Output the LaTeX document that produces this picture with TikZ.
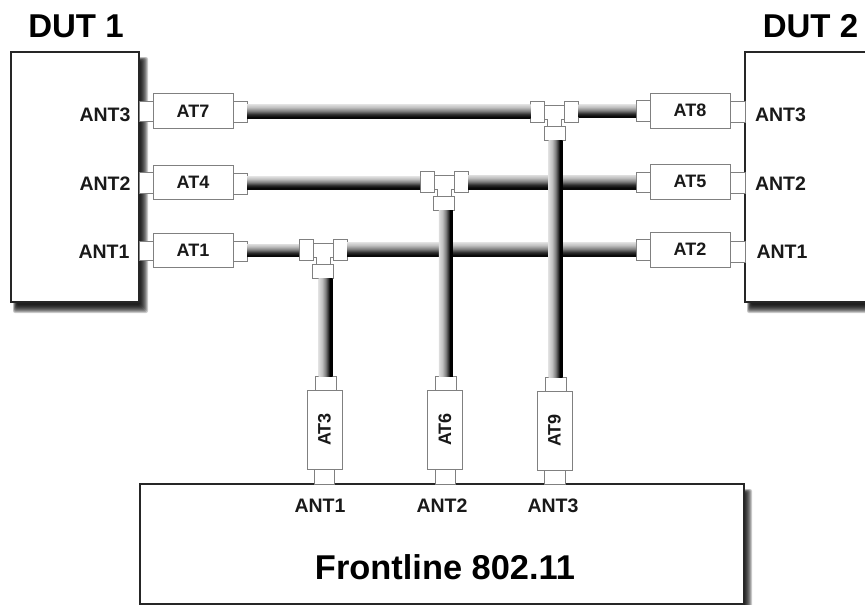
\documentclass[tikz,border=0pt]{standalone}
\usepackage{fontspec}
\usepackage{graphicx}
\setmainfont{Liberation Sans}
\definecolor{cabA}{gray}{0.87}
\definecolor{cabB}{gray}{0.75}
\definecolor{cabC}{gray}{0.50}
\definecolor{cabD}{gray}{0.18}
\definecolor{cabE}{gray}{0.03}
\pgfdeclareverticalshading{hcab}{100bp}{color(0bp)=(cabE); color(30bp)=(cabE); color(40bp)=(cabD); color(52bp)=(cabC); color(65bp)=(cabB); color(75bp)=(cabA); color(100bp)=(cabA)}
\pgfdeclarehorizontalshading{vcab}{100bp}{color(0bp)=(cabA); color(25bp)=(cabA); color(38bp)=(cabB); color(50bp)=(cabC); color(60bp)=(cabD); color(65bp)=(black); color(100bp)=(black)}
\definecolor{edgegray}{gray}{0.5}
\tikzset{
  outerbox/.style={draw=black!85,line width=1.2pt,fill=white,inner sep=0pt,outer sep=0pt},
  partbox/.style={draw=edgegray,line width=1pt,fill=white,inner sep=0pt,outer sep=0pt,
    font=\fontsize{18}{18}\selectfont\bfseries,text=black!90},
  parttext/.style={partbox,text height=12.9pt,text depth=0pt},
  tabbox/.style={draw=edgegray,line width=1pt,fill=white,inner sep=0pt,outer sep=0pt},
  title/.style={inner sep=0pt,font=\fontsize{33}{33}\selectfont\bfseries,text height=23.6pt,text depth=0pt},
  bigtitle/.style={inner sep=0pt,font=\fontsize{34.4}{34.4}\selectfont\bfseries,text height=24.6pt,text depth=0pt},
  portlabel/.style={inner sep=0pt,font=\fontsize{19.5}{19.5}\selectfont\bfseries,text=black!90,text height=14pt,text depth=0pt},
  hcable/.style={shading=hcab},
  vcable/.style={shading=vcab},
  teebody/.style={draw=edgegray,line width=1pt,fill=white,line join=miter},
}
% \rn[style]{name}{x0}{y0}{x1}{y1}{text}
\newcommand{\rn}[7][tabbox]{%
  \pgfmathsetmacro{\rncx}{((#3)+(#5))/2}\pgfmathsetmacro{\rncy}{((#4)+(#6))/2}%
  \pgfmathsetmacro{\rnw}{(#5)-(#3)}\pgfmathsetmacro{\rnh}{(#6)-(#4)}%
  \node[#1,minimum width=\rnw pt,minimum height=\rnh pt] (#2) at (\rncx,\rncy) {#7};}
% \softshadow{x0}{y0}{x1}{y1}: nested translucent rectangles
\newcommand{\softshadow}[4]{%
  \foreach \k in {0,...,8}{%
    \fill[black,opacity=0.2,rounded corners=2pt] (#1+\k*0.5,#2+\k*0.5) rectangle (#3-\k,#4-\k);}}
% \teejoint{name}{cx}{cy}
\newcommand{\teejoint}[3]{%
  \draw[teebody] (#2-10,#3-6.5) -- (#2+10,#3-6.5) -- (#2+10,#3+7.5) -- (#2+7,#3+7.5) -- (#2+7,#3+15)
     -- (#2-7,#3+15) -- (#2-7,#3+7.5) -- (#2-10,#3+7.5) -- cycle;
  \rn{#1L}{#2-24}{#3-10.5}{#2-10}{#3+10.5}{}
  \rn{#1R}{#2+10}{#3-10.5}{#2+24}{#3+10.5}{}
  \rn{#1B}{#2-10.5}{#3+14.5}{#2+10.5}{#3+28.5}{}}
\begin{document}
\begin{tikzpicture}[x=1pt,y=-1pt]
\clip (0,0) rectangle (865,605);
\fill[white] (0,0) rectangle (865,605);
% shadows
\softshadow{13}{57}{148}{313}
\softshadow{747}{57}{890}{313}
\softshadow{143}{489}{752}{620}
% main boxes
\rn[outerbox]{dutA}{11}{52}{139}{302}{}
\rn[outerbox]{dutB}{745}{52}{890}{302}{}
\rn[outerbox]{front}{140}{484}{744}{604}{}
\node[title] (dutAt) at (76,26) {DUT 1};
\node[title] (dutBt) at (810.5,26) {DUT 2};
\node[bigtitle] (frontt) at (445,567) {Frontline 802.11};
% port labels
\node[portlabel] (lp3) at (105,114) {ANT3};
\node[portlabel] (lp2) at (105,183) {ANT2};
\node[portlabel] (lp1) at (104,251) {ANT1};
\node[portlabel] (rp3) at (780.5,114) {ANT3};
\node[portlabel] (rp2) at (780.5,183) {ANT2};
\node[portlabel] (rp1) at (782,251) {ANT1};
\node[portlabel] (fp1) at (320,505) {ANT1};
\node[portlabel] (fp2) at (442,505) {ANT2};
\node[portlabel] (fp3) at (553,505) {ANT3};
% left tabs and attenuators
\rn{lt7}{139}{101}{153}{121}{}
\rn{lt4}{139}{172}{153}{193}{}
\rn{lt1}{139}{241}{153}{260}{}
\rn[parttext]{at7}{153}{93.5}{233}{128}{AT7}
\rn[parttext]{at4}{153}{165}{233}{199.5}{AT4}
\rn[parttext]{at1}{153}{233}{233}{267}{AT1}
\rn{rt7}{233}{101}{247}{122}{}
\rn{rt4}{233}{173}{247}{194}{}
\rn{rt1}{233}{241}{247}{261}{}
% right tabs and attenuators
\rn{lt8}{636}{100}{650}{121}{}
\rn{lt5}{636}{172}{650}{192}{}
\rn{lt2}{636}{239}{650}{260}{}
\rn[parttext]{at8}{650}{93}{730}{128}{AT8}
\rn[parttext]{at5}{650}{164}{730}{199}{AT5}
\rn[parttext]{at2}{650}{232}{730}{267}{AT2}
\rn{rt8}{730}{101}{745}{122}{}
\rn{rt5}{730}{172}{745}{193}{}
\rn{rt2}{730}{241}{745}{262}{}
% vertical attenuators
\rn{ut3}{315}{376}{336}{390}{}
\rn{ut6}{435.5}{376}{456}{390}{}
\rn{ut9}{545}{377}{566}{391}{}
\rn{dt3}{314}{469}{334}{484}{}
\rn{dt6}{435}{469}{455}{484}{}
\rn{dt9}{544.5}{470}{565}{484}{}
\rn[partbox]{at3}{307}{390}{342}{469}{\rotatebox{90}{AT3}}
\rn[partbox]{at6}{427.5}{390}{462.5}{469}{\rotatebox{90}{AT6}}
\rn[partbox]{at9}{537}{391}{572}{470}{\rotatebox{90}{AT9}}
% T joints
\teejoint{tA}{323}{249.5}
\teejoint{tB}{444}{182}
\teejoint{tC}{554.5}{111.5}
% horizontal cables
\shade[hcable] ([yshift=7pt]rt7.east) rectangle ([yshift=-7pt]tCL.west);
\shade[hcable] ([yshift=7pt]tCR.east) rectangle ([yshift=-7pt]lt8.west);
\shade[hcable] ([yshift=7pt]rt4.east) rectangle ([yshift=-7pt]tBL.west);
\shade[hcable] ([yshift=7pt]tBR.east) rectangle ([yshift=-7pt]lt5.west);
\shade[hcable] ([yshift=7pt]rt1.east) rectangle ([yshift=-7pt]tAL.west);
\shade[hcable] ([yshift=7pt]tAR.east) rectangle ([yshift=-7pt]lt2.west);
% vertical cables
\shade[vcable] ([xshift=-7pt]ut3.north |- tAB.south) rectangle ([xshift=7pt]ut3.north);
\shade[vcable] ([xshift=-7pt]ut6.north |- tBB.south) rectangle ([xshift=7pt]ut6.north);
\shade[vcable] ([xshift=-7pt]ut9.north |- tCB.south) rectangle ([xshift=7pt]ut9.north);
\end{tikzpicture}
\end{document}
